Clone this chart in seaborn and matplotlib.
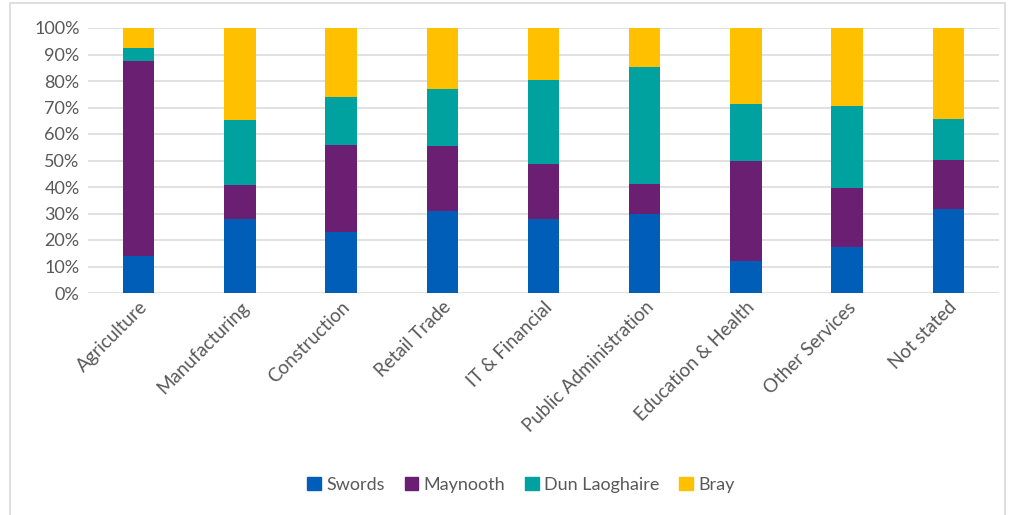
import numpy as np
import pandas as pd
import matplotlib
matplotlib.use("Agg")
import matplotlib.pyplot as plt
import matplotlib.patches as mpatches
from matplotlib.ticker import PercentFormatter
import seaborn as sns

categories = ["Agriculture", "Manufacturing", "Construction", "Retail Trade",
              "IT & Financial", "Public Administration", "Education & Health",
              "Other Services", "Not stated"]
series_names = ["Swords", "Maynooth", "Dun Laoghaire", "Bray"]
swords = [14.1, 28.1, 23.1, 30.9, 28.1, 30.0, 12.2, 17.5, 31.8]
maynooth = [73.3, 12.7, 32.9, 24.4, 20.5, 11.3, 37.5, 22.1, 18.3]
dun_laoghaire = [5.2, 24.3, 17.9, 21.5, 31.7, 43.9, 21.8, 30.9, 15.7]
bray = [7.4, 34.9, 26.1, 23.2, 19.7, 14.8, 28.5, 29.5, 34.2]
colors = ["#005EB8", "#6B1F73", "#00A29F", "#FFC000"]

sns.set_style("white")
plt.rcParams["font.family"] = ["Lato", "DejaVu Sans"]

vals = np.array([swords, maynooth, dun_laoghaire, bray], dtype=float)
vals = vals / vals.sum(axis=0) * 100.0
cum = np.cumsum(vals, axis=0)

fig = plt.figure(figsize=(10.11, 5.15), dpi=100)
ax = fig.add_axes([88/1011, 1-293/515, (999-88)/1011, (293-28)/515])

for i in range(3, -1, -1):
    df = pd.DataFrame({"category": categories, "value": cum[i]})
    sns.barplot(data=df, x="category", y="value", color=colors[i],
                saturation=1, width=0.31, linewidth=0, ax=ax, zorder=3)

ax.set_ylim(0, 100)
ax.set_xlim(-0.5, len(categories) - 0.5)
ax.set_yticks(np.arange(0, 101, 10))
ax.yaxis.set_major_formatter(PercentFormatter(decimals=0))
ax.grid(axis="y", color="#D9D9D9", linewidth=1.1, zorder=0)
ax.set_axisbelow(True)
for s in ax.spines.values():
    s.set_visible(False)
ax.set_xlabel("")
ax.set_ylabel("")
ax.tick_params(axis="y", length=0, labelsize=13, colors="#595959", pad=6)
ax.tick_params(axis="x", length=0, labelsize=13.5, colors="#595959", pad=4)
plt.setp(ax.get_xticklabels(), rotation=45, ha="right", rotation_mode="anchor")

handles = [mpatches.Patch(color=c, label=n) for c, n in zip(colors, series_names)]
fig.legend(handles=handles, loc="center", bbox_to_anchor=(521/1011, 1-485/515),
           ncol=4, frameon=False, fontsize=13, handlelength=0.75, handleheight=0.75,
           handletextpad=0.3, columnspacing=1.1, labelcolor="#595959")

fig.patches.append(mpatches.Rectangle((10/1011, -0.01), (1005-10)/1011, 1-3/515 + 0.01,
                                      transform=fig.transFigure, fill=False,
                                      edgecolor="#D9D9D9", linewidth=1.2))

fig.savefig("out.png", dpi=100)
